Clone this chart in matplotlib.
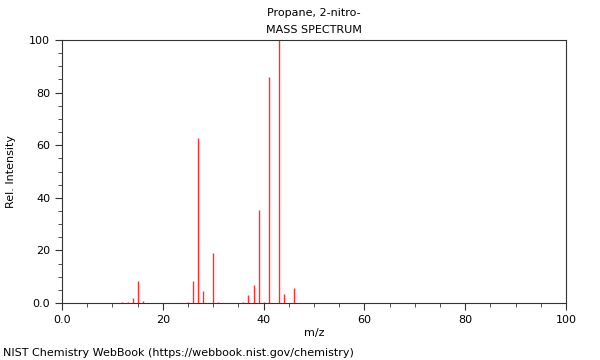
import matplotlib
matplotlib.use("Agg")
import matplotlib.pyplot as plt
from matplotlib.ticker import MultipleLocator, FuncFormatter

mz = [12, 13, 14, 15, 16, 25, 26, 27, 28, 30, 31, 36, 37, 38, 39, 40, 41, 43, 44, 46]
intensity = [0.2, 0.5, 1.9, 8.5, 0.7, 0.2, 8.4, 62.9, 4.6, 19.0, 0.5, 0.4, 3.0, 6.8, 35.5, 0.5, 86.0, 100.0, 3.3, 5.6]

title1 = "Propane, 2-nitro-"
title2 = "MASS SPECTRUM"
footer = "NIST Chemistry WebBook (https://webbook.nist.gov/chemistry)"

plt.rcParams['font.family'] = ['DejaVu Sans']
plt.rcParams['font.size'] = 8

fig = plt.figure(figsize=(6, 3.6), dpi=100)
ax = fig.add_axes([62/600, 1 - 303/360, (566-62)/600, (303-40)/360])

ax.vlines(mz, 0, intensity, colors='#ff3030', linewidth=1.0)
ax.set_xlim(0, 100)
ax.set_ylim(0, 100)

def fmt(v, pos):
    return "0.0" if abs(v) < 1e-9 else "%d" % round(v)

ax.xaxis.set_major_locator(MultipleLocator(20))
ax.xaxis.set_minor_locator(MultipleLocator(5))
ax.yaxis.set_major_locator(MultipleLocator(20))
ax.yaxis.set_minor_locator(MultipleLocator(5))
ax.xaxis.set_major_formatter(FuncFormatter(fmt))
ax.yaxis.set_major_formatter(FuncFormatter(fmt))
ax.tick_params(which='major', length=5, color='#333333', labelsize=8)
ax.tick_params(which='minor', length=3, color='#333333')
for s in ax.spines.values():
    s.set_color('#333333')
    s.set_linewidth(0.8)

ax.set_xlabel("m/z", fontsize=8)
ax.xaxis.set_label_coords((314 - 62) / 504, (303 - 333) / 263)
ax.set_ylabel("Rel. Intensity", fontsize=8)
ax.yaxis.set_label_coords((11 - 62) / 504, (303 - 172) / 263)
ax.yaxis.label.set_va('center')
ax.xaxis.label.set_va('center')

fig.text(314/600, 1 - 13/360, title1, ha='center', va='center', fontsize=8)
fig.text(314/600, 1 - 30/360, title2, ha='center', va='center', fontsize=8)
fig.text(3/600, 1 - 353/360, footer, ha='left', va='center', fontsize=8)

fig.savefig("out.png", dpi=100)
